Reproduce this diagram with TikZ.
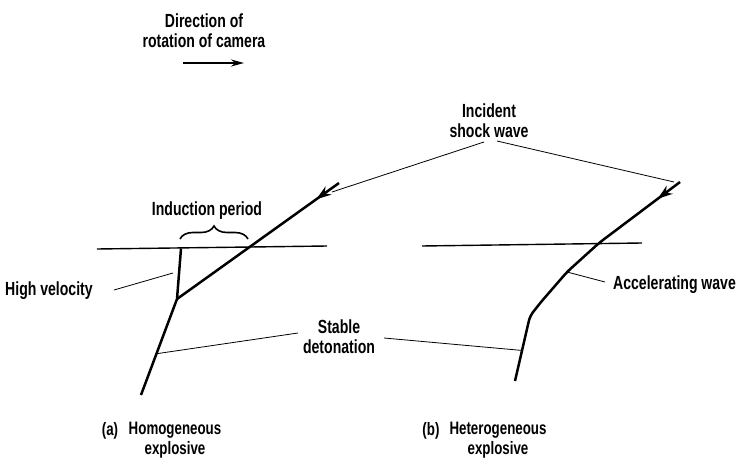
\documentclass[tikz,border=0pt]{standalone}
\usepackage{fontspec}
\setmainfont{Liberation Sans}[FakeStretch=0.74]
\usepackage{tikz}
\usetikzlibrary{arrows.meta,calc,decorations.pathreplacing,decorations.markings}
\tikzstyle{lbl} = [font=\bfseries\fontsize{19}{20}\selectfont, align=center, inner sep=0pt]
\tikzstyle{caplbl} = [font=\bfseries\fontsize{18}{19.5}\selectfont, align=center, inner sep=0pt]
\tikzstyle{wave} = [draw, line width=2.5pt]
\tikzstyle{level} = [draw, line width=1.4pt]
\tikzstyle{leader} = [draw, line width=0.8pt]
\tikzstyle{rotarrow} = [draw, line width=2pt, -{Stealth[length=13pt,width=7pt]}]
\tikzstyle{brace} = [draw, line width=1.6pt, decorate, decoration={brace, amplitude=13pt}]
\tikzstyle{shockarrow} = [postaction={decorate},
    decoration={markings, mark=at position 28pt with {\arrow{Stealth[length=15pt,width=10pt]}}}]

\begin{document}
\begin{tikzpicture}[x=1pt, y=-1pt]
    \useasboundingbox (0,0) rectangle (737,460);
    % Place nodes
    \node [lbl] (dir) at (204,31) {Direction of\\rotation of camera};
    \node [lbl] (inc) at (489,121) {Incident\\shock wave};
    \node [lbl] (ind) at (207,211) {Induction period};
    \node [lbl, anchor=west] (hv) at (5,291) {High velocity};
    \node [lbl, anchor=west] (acc) at (613,285) {Accelerating wave};
    \node [lbl] (stab) at (339,337) {Stable\\detonation};
    \node [caplbl] (capa) at (110,431) {(a)};
    \node [caplbl] (homo) at (175,440) {Homogeneous\\explosive};
    \node [caplbl] (capb) at (431,431) {(b)};
    \node [caplbl] (hete) at (498,440) {Heterogeneous\\explosive};
    % Points on the traces
    \coordinate (rotA) at (183,63);
    \coordinate (rotB) at (244,63);
    \coordinate (lvA) at (97,249);
    \coordinate (lvB) at (327,246);
    \coordinate (shA) at (339,183);
    \coordinate (junc) at (177,299);
    \coordinate (hvTop) at (181,248.5);
    \coordinate (lBot) at (141,395);
    \coordinate (brA) at (180,239);
    \coordinate (brB) at (248,239);
    \coordinate (rvA) at (422,246);
    \coordinate (rvB) at (642,243);
    \coordinate (wTop) at (680,182);
    \coordinate (wCross) at (599,243);
    \coordinate (wAcc) at (567,272);
    \coordinate (wBend) at (541,302);
    \coordinate (wKink) at (530,316);
    \coordinate (wBot) at (515,381);
    % Leader ends
    \coordinate (incL) at (484,142);
    \coordinate (incPa) at (332,192);
    \coordinate (incR) at (497,141);
    \coordinate (incPb) at (674,182);
    \coordinate (hvL) at (114,290);
    \coordinate (hvPt) at (173,273);
    \coordinate (accL) at (605,282);
    \coordinate (stL) at (298,333);
    \coordinate (stR) at (384,338);
    % Draw traces
    \path [rotarrow] (rotA) -- (rotB);
    \path [level] (lvA) -- (lvB);
    \path [level] (rvA) -- (rvB);
    \path [wave, shockarrow] (shA) -- (junc);
    \path [wave] (hvTop) -- (junc) -- (lBot);
    \path [wave, shockarrow, rounded corners=5pt] (wTop) -- (wCross) -- (wAcc) -- (wBend) -- (wKink) -- (wBot);
    \path [brace] (brA) -- (brB);
    % Draw leaders
    \path [leader] (incL) -- (incPa);
    \path [leader] (incR) -- (incPb);
    \path [leader] (hvL) -- (hvPt);
    \path [leader] (accL) -- (wAcc);
    \path [leader] (stL) -- ($(junc)!0.57!(lBot)$);
    \path [leader] (stR) -- ($(wKink)!0.53!(wBot)$);
\end{tikzpicture}
\end{document}
